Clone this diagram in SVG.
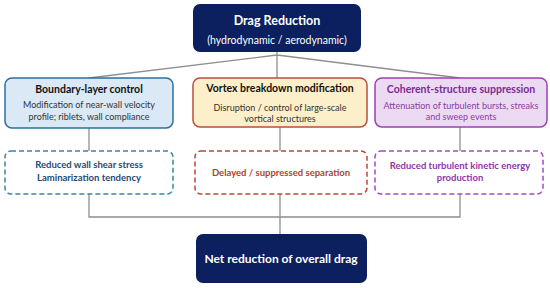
<svg xmlns="http://www.w3.org/2000/svg" width="550" height="288" viewBox="0 0 550 288">
<style>
text{font-family:Lato,"Liberation Sans",sans-serif;text-anchor:middle}
.b{font-weight:bold}
.conn{stroke:#8f8f8f;stroke-width:1.3;fill:none}
.dash{fill:#ffffff;stroke-width:1.5;stroke-dasharray:5 3}
</style>
<rect width="550" height="288" fill="#ffffff"/>
<g id="connectors">
<path class="conn" d="M277 55 L89 78 M277 55 L460 78 M277 52 V78"/>
<path class="conn" d="M89 128 V151 M280 127 V151 M460 127 V151"/>
<path class="conn" d="M89 194 V217 H460 V194 M280 194 V234"/>
</g>
<g id="drag-reduction">
<rect x="193" y="4" width="168" height="48" rx="7" fill="#0c1f5e"/>
<text class="b" x="277" y="25" font-size="12.5" fill="#ffffff">Drag Reduction</text>
<text x="277" y="44" font-size="10.5" fill="#ffffff">(hydrodynamic / aerodynamic)</text>
</g>
<g id="boundary-layer">
<rect x="5" y="78" width="168" height="50" rx="7" fill="#dbe9f6" stroke="#2f6f9c" stroke-width="1.5"/>
<text class="b" x="89" y="93" font-size="10.5" fill="#111111">Boundary-layer control</text>
<text x="89" y="108" font-size="9" fill="#333333">Modification of near-wall velocity</text>
<text x="89" y="119.5" font-size="9" fill="#333333">profile; riblets, wall compliance</text>
</g>
<g id="vortex">
<rect x="193" y="78" width="174" height="49" rx="7" fill="#fdefc9" stroke="#b9503f" stroke-width="1.5"/>
<text class="b" x="280" y="92" font-size="10.5" fill="#111111">Vortex breakdown modification</text>
<text x="280" y="111" font-size="9" fill="#333333">Disruption / control of large-scale</text>
<text x="280" y="122" font-size="9" fill="#333333">vortical structures</text>
</g>
<g id="coherent">
<rect x="375" y="78" width="172" height="49" rx="7" fill="#ecdaf3" stroke="#9a42b0" stroke-width="1.5"/>
<text class="b" x="461" y="93" font-size="10.5" fill="#7b2a94">Coherent-structure suppression</text>
<text x="461" y="109" font-size="9" fill="#8a3aa3">Attenuation of turbulent bursts, streaks</text>
<text x="461" y="120" font-size="9" fill="#8a3aa3">and sweep events</text>
</g>
<g id="wall-shear">
<rect class="dash" x="5" y="151" width="168" height="43" rx="6" stroke="#3b84a6"/>
<text class="b" x="89" y="168" font-size="9.5" fill="#1f4b78">Reduced wall shear stress</text>
<text class="b" x="89" y="181" font-size="9.5" fill="#1f4b78">Laminarization tendency</text>
</g>
<g id="separation">
<rect class="dash" x="195" y="151" width="172" height="43" rx="6" stroke="#b8473e"/>
<text class="b" x="281" y="176" font-size="9.5" fill="#b5402f">Delayed / suppressed separation</text>
</g>
<g id="tke">
<rect class="dash" x="375" y="151" width="168" height="43" rx="6" stroke="#a24cc0"/>
<text class="b" x="460" y="169" font-size="9.5" fill="#8e35a8">Reduced turbulent kinetic energy</text>
<text class="b" x="460" y="181" font-size="9.5" fill="#8e35a8">production</text>
</g>
<g id="net-reduction">
<rect x="196" y="234" width="171" height="49" rx="7" fill="#0c1f5e"/>
<text class="b" x="281" y="263" font-size="12" fill="#ffffff">Net reduction of overall drag</text>
</g>
</svg>
